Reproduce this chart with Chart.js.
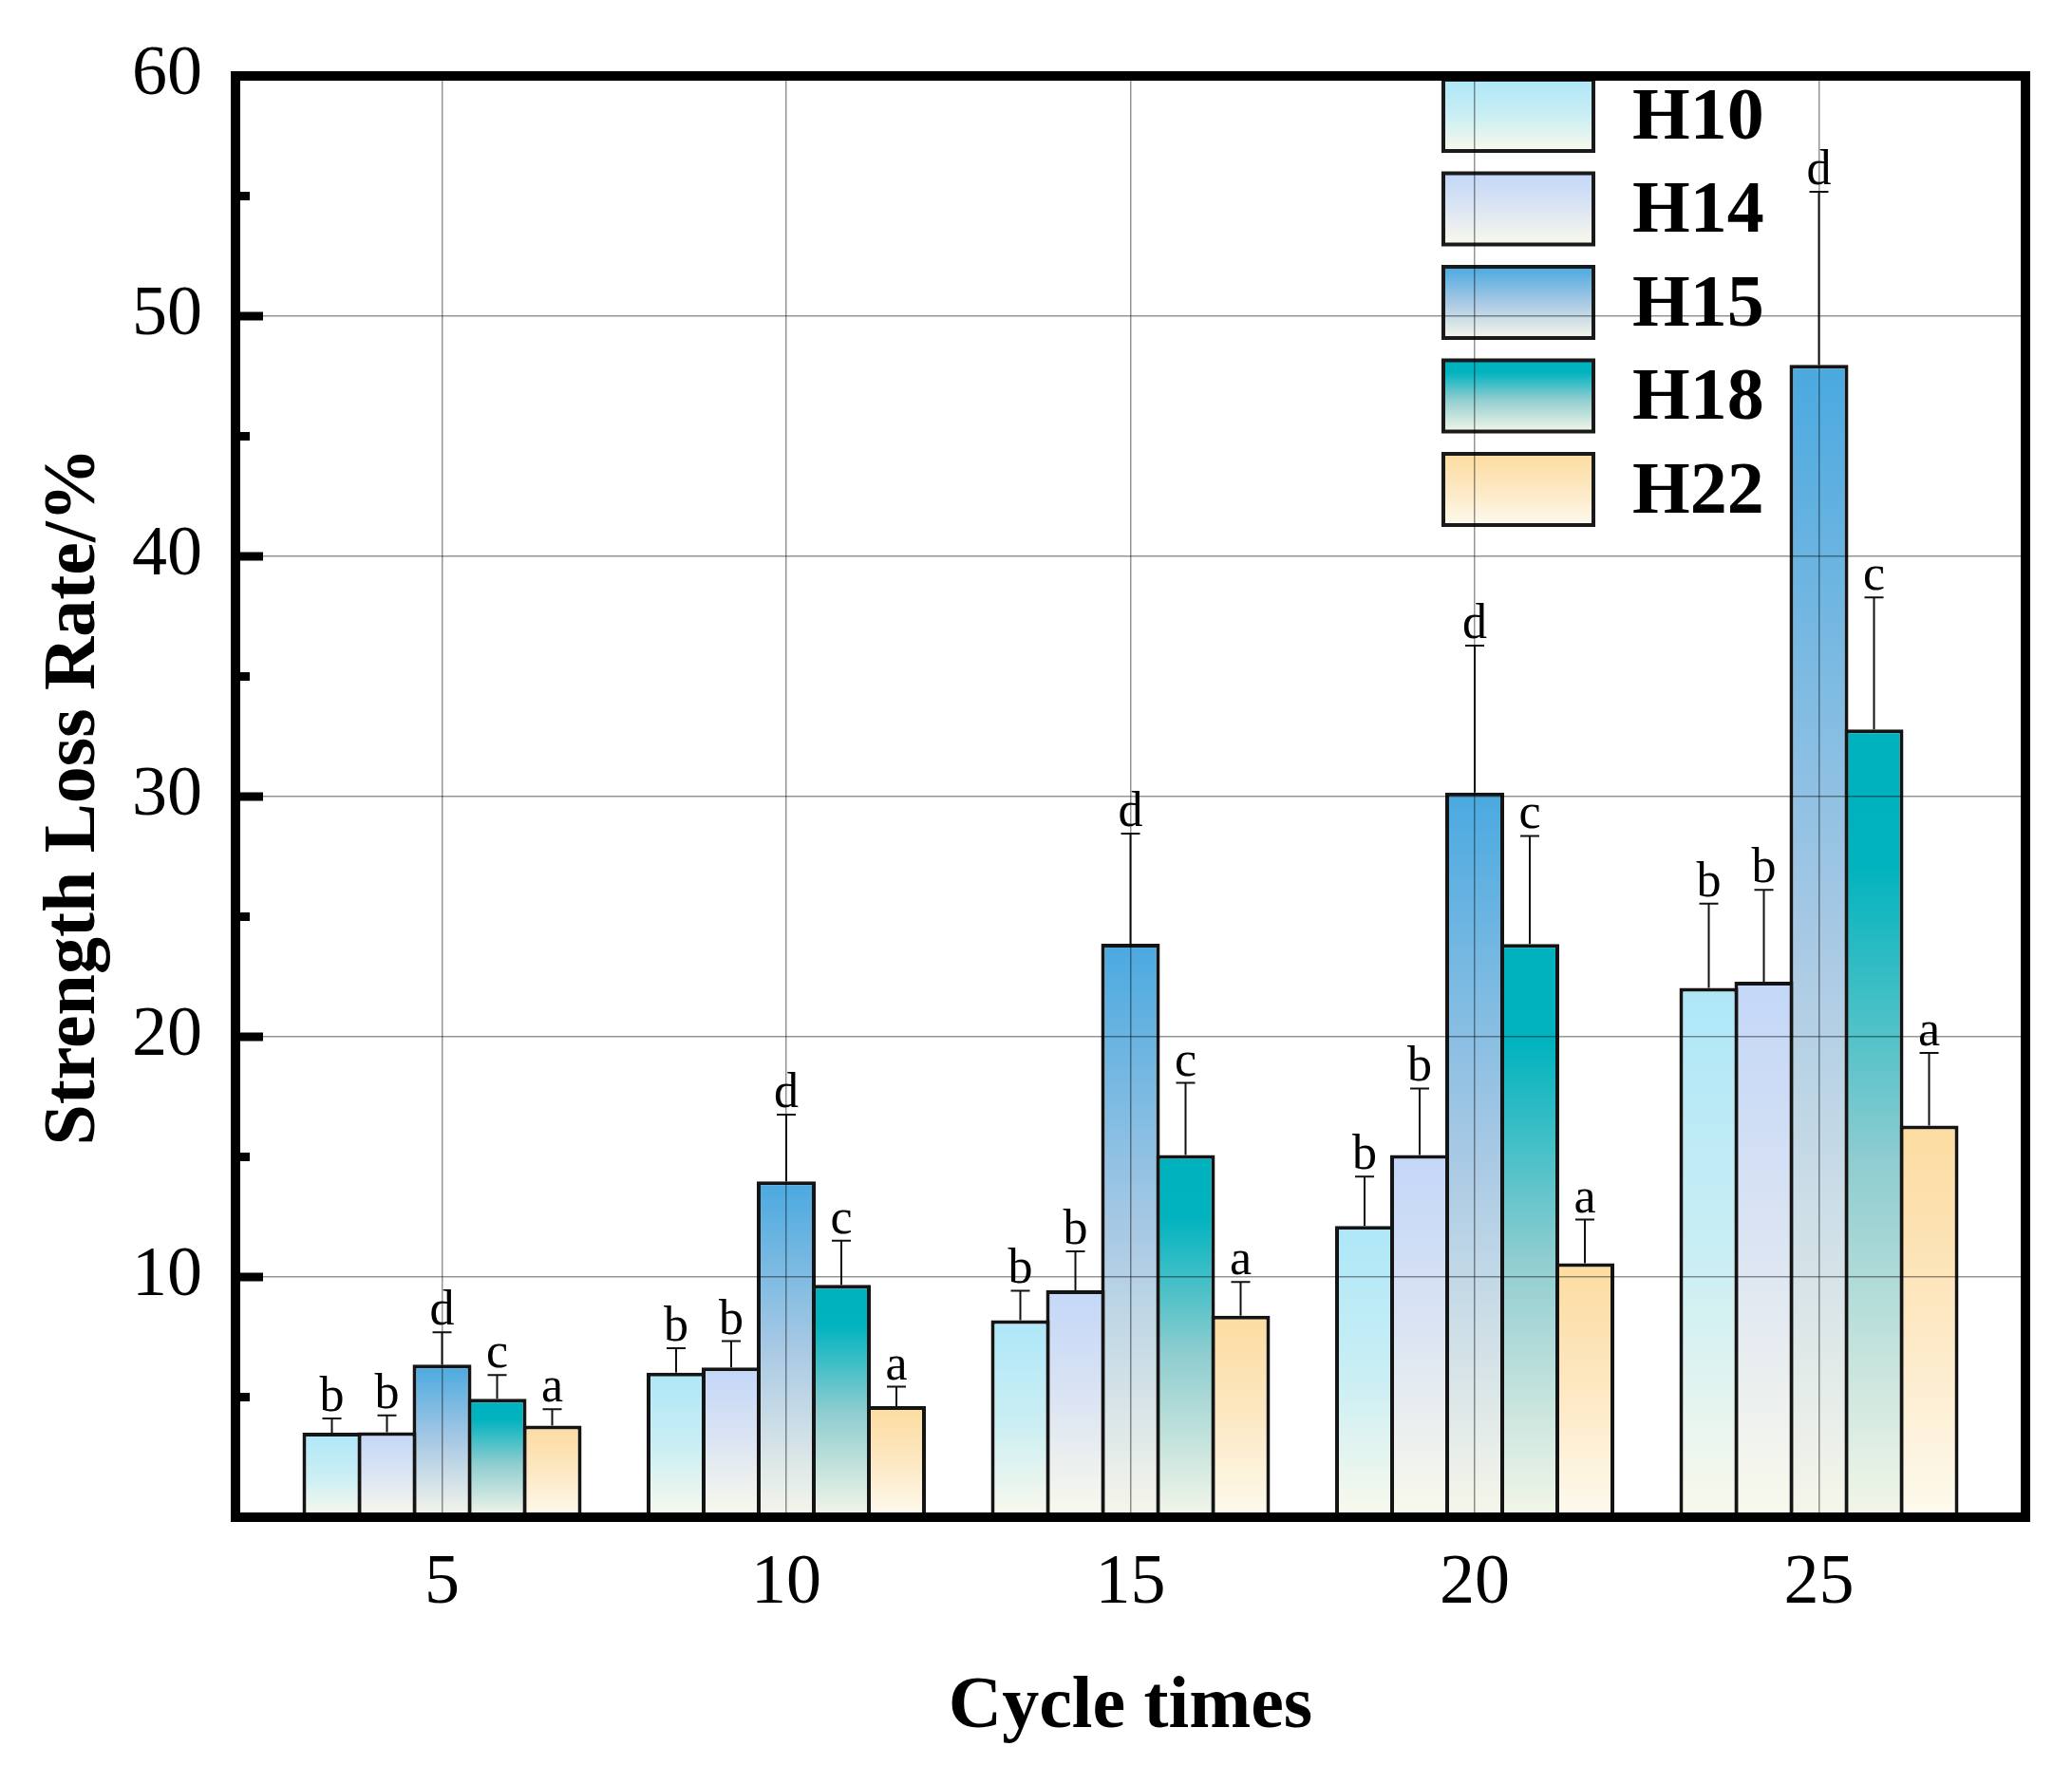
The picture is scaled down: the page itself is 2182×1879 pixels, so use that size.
<!DOCTYPE html>
<html>
<head>
<meta charset="utf-8">
<script src="https://cdn.jsdelivr.net/npm/chart.js@4"></script>
<style>
  body { margin: 0; background: #fff; }
  #wrap { width: 2182px; height: 1879px; }
</style>
</head>
<body>
<div id="wrap"><canvas id="myChart" width="2182" height="1879"></canvas></div>
<script>
// data
var cycles = [5, 10, 15, 20, 25];
var seriesNames = ['H10', 'H14', 'H15', 'H18', 'H22'];

var h10 = [3.52, 6.02, 8.2, 12.12, 22.04];
var h14 = [3.54, 6.24, 9.45, 15.08, 22.29];
var h15 = [6.35, 13.98, 23.87, 30.17, 47.97];
var h18 = [4.93, 9.67, 15.08, 23.86, 32.8];
var h22 = [3.81, 4.62, 8.39, 10.57, 16.3];

var h10Err = [0.59, 1.02, 1.23, 2.06, 3.5];
var h14Err = [0.7, 1.09, 1.62, 2.77, 3.83];
var h15Err = [1.35, 2.78, 4.59, 6.11, 7.21];
var h18Err = [0.99, 1.84, 3.0, 4.5, 5.49];
var h22Err = [0.69, 0.81, 1.4, 1.82, 3.03];

var h10Sig = ['b', 'b', 'b', 'b', 'b'];
var h14Sig = ['b', 'b', 'b', 'b', 'b'];
var h15Sig = ['d', 'd', 'd', 'd', 'd'];
var h18Sig = ['c', 'c', 'c', 'c', 'c'];
var h22Sig = ['a', 'a', 'a', 'a', 'a'];

var yTicks = [0, 10, 20, 30, 40, 50, 60];

var values = [h10, h14, h15, h18, h22];
var errors = [h10Err, h14Err, h15Err, h18Err, h22Err];
var letters = [h10Sig, h14Sig, h15Sig, h18Sig, h22Sig];

// gradient stops per series (top -> bottom)
var gradStops = [
    [[0, '#aee7f8'], [0.5, '#c9eef4'], [1, '#f9f9ec']],
    [[0, '#c3d7f8'], [0.45, '#d9e3f3'], [1, '#f9f9ec']],
    [[0, '#4aa9e0'], [0.5, '#a8c9e4'], [1, '#f6f6ea']],
    [[0, '#00b1be'], [0.17, '#00b3bf'], [0.55, '#8fcdd0'], [1, '#f3f6e8']],
    [[0, '#fcdca0'], [0.5, '#fde8c3'], [1, '#fdfaee']]
];

var SERIF = '"Liberation Serif", "Times New Roman", serif';

function makeGradient(ctx, stops, top, bottom) {
    if (!isFinite(top) || !isFinite(bottom) || top === bottom) return stops[0][1];
    var g = ctx.createLinearGradient(0, top, 0, bottom);
    stops.forEach(function (s) { g.addColorStop(s[0], s[1]); });
    return g;
}

function barFill(i) {
    return function (c) {
        var chart = c.chart;
        if (!chart.chartArea || c.type !== 'data' || !chart.scales.y) return gradStops[i][0][1];
        var y = chart.scales.y;
        var top = y.getPixelForValue(c.parsed.y);
        var bottom = y.getPixelForValue(0);
        return makeGradient(chart.ctx, gradStops[i], top, bottom);
    };
}

// error bars, letters and the legend box list
var extrasPlugin = {
    id: 'extras',
    afterDatasetsDraw: function (chart) {
        var ctx = chart.ctx;
        var y = chart.scales.y;
        ctx.save();
        chart.data.datasets.forEach(function (ds, i) {
            var meta = chart.getDatasetMeta(i);
            meta.data.forEach(function (bar, j) {
                var top = y.getPixelForValue(values[i][j] + errors[i][j]);
                ctx.strokeStyle = '#111';
                ctx.lineWidth = 2;
                ctx.beginPath();
                ctx.moveTo(bar.x, bar.y);
                ctx.lineTo(bar.x, top);
                ctx.moveTo(bar.x - 10, top);
                ctx.lineTo(bar.x + 10, top);
                ctx.stroke();
                ctx.fillStyle = '#000';
                ctx.font = '52px ' + SERIF;
                ctx.textAlign = 'center';
                ctx.textBaseline = 'alphabetic';
                ctx.fillText(letters[i][j], bar.x, top - 8);
            });
        });

        // legend inside the plot, top right
        var bx = 1520, bw = 158, bh = 75, by0 = 84, step = 98.5;
        seriesNames.forEach(function (name, i) {
            var by = by0 + i * step;
            ctx.fillStyle = makeGradient(ctx, gradStops[i], by, by + bh);
            ctx.fillRect(bx, by, bw, bh);
            ctx.strokeStyle = '#1a1a1a';
            ctx.lineWidth = 4;
            ctx.strokeRect(bx, by, bw, bh);
            ctx.fillStyle = '#000';
            ctx.font = 'bold 78px ' + SERIF;
            ctx.textAlign = 'left';
            ctx.textBaseline = 'middle';
            ctx.fillText(name, bx + bw + 41, by + bh / 2 + 4);
        });
        ctx.restore();
    },
    afterDraw: function (chart) {
        var ctx = chart.ctx;
        var a = chart.chartArea;
        var y = chart.scales.y;
        ctx.save();
        ctx.strokeStyle = '#000';
        ctx.lineWidth = 10;
        ctx.strokeRect(a.left, a.top, a.right - a.left, a.bottom - a.top);
        // inward ticks on the left axis
        ctx.lineWidth = 9;
        y.ticks.forEach(function (t, k) {
            var py = y.getPixelForValue(t.value);
            ctx.beginPath();
            ctx.moveTo(a.left, py);
            ctx.lineTo(a.left + 29, py);
            ctx.stroke();
            if (k < y.ticks.length - 1) {
                var my = y.getPixelForValue((t.value + y.ticks[k + 1].value) / 2);
                ctx.beginPath();
                ctx.moveTo(a.left, my);
                ctx.lineTo(a.left + 15, my);
                ctx.stroke();
            }
        });
        ctx.restore();
    }
};

// bars slightly wider than their slot so neighbouring borders overlap into one line
var datasets = seriesNames.map(function (name, i) {
    return {
        label: name,
        data: cycles.map(function (c, j) { return { x: c, y: values[i][j] }; }),
        backgroundColor: barFill(i),
        borderColor: '#141414',
        borderWidth: 4,
        borderSkipped: 'start',
        inflateAmount: 0,
        categoryPercentage: 0.8,
        barPercentage: 1.069
    };
});

var ctx = document.getElementById('myChart').getContext('2d');
var myChart = new Chart(ctx, {
    type: 'bar',
    data: { datasets: datasets },
    plugins: [extrasPlugin],
    options: {
        responsive: false,
        animation: false,
        layout: { padding: { top: 80, right: 49, left: 0, bottom: 0 } },
        plugins: {
            legend: { display: false },
            tooltip: { enabled: false }
        },
        scales: {
            x: {
                type: 'linear',
                min: 2,
                max: 28,
                offset: false,
                afterBuildTicks: function (s) {
                    s.ticks = cycles.map(function (v) { return { value: v }; });
                },
                afterFit: function (s) { s.height = 281; },
                grid: { offset: false, drawTicks: false, color: 'rgba(0,0,0,0.42)', lineWidth: 1.5, z: 1 },
                border: { display: false },
                ticks: {
                    padding: 26,
                    maxRotation: 0,
                    color: '#000',
                    font: { family: SERIF, size: 74 }
                },
                title: {
                    display: true,
                    text: 'Cycle times',
                    color: '#000',
                    font: { family: SERIF, size: 78, weight: 'bold' },
                    padding: { top: 0, bottom: 33 }
                }
            },
            y: {
                min: 0,
                max: 60,
                afterBuildTicks: function (s) {
                    s.ticks = yTicks.map(function (v) { return { value: v }; });
                },
                afterFit: function (s) { s.width = 248; },
                grid: { drawTicks: false, color: 'rgba(0,0,0,0.42)', lineWidth: 1.5, z: 1 },
                border: { display: false },
                ticks: {
                    padding: 35,
                    color: '#000',
                    font: { family: SERIF, size: 74 },
                    callback: function (v) { return v === 0 ? '' : v; }
                },
                title: {
                    display: true,
                    text: 'Strength Loss Rate/%',
                    color: '#000',
                    font: { family: SERIF, size: 78, weight: 'bold' },
                    padding: { top: 32, bottom: 0 }
                }
            }
        }
    }
});
</script>
</body>
</html>
